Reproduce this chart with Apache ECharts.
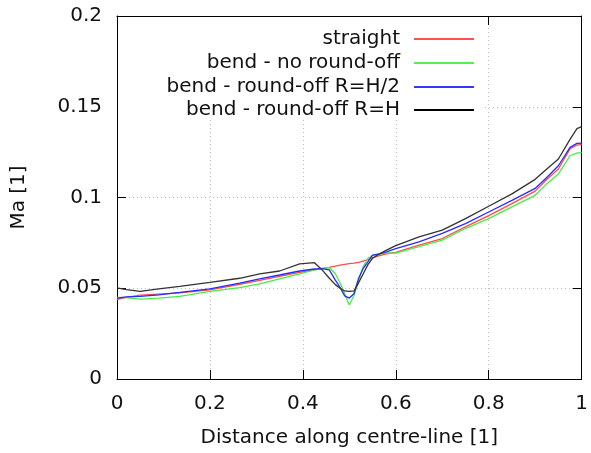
<!DOCTYPE html>
<html>
<head>
<meta charset="utf-8">
<script src="https://cdn.jsdelivr.net/npm/echarts@6/dist/echarts.min.js"></script>
<style>
html,body{margin:0;padding:0;background:#fff;}
#chart{width:591px;height:453px;}
</style>
</head>
<body>
<div id="chart"></div>
<script>
// Shared abscissa (distance along centre-line)
const xs = [0, 0.02, 0.05, 0.09, 0.135, 0.2, 0.264, 0.307, 0.35, 0.393, 0.425, 0.44, 0.457, 0.47, 0.48, 0.49, 0.50, 0.51, 0.52, 0.53, 0.54, 0.55, 0.565, 0.58, 0.6, 0.65, 0.7, 0.75, 0.8, 0.85, 0.9, 0.925, 0.95, 0.975, 0.99, 1.0];

const straight = [0.0438, 0.0450, 0.0462, 0.0468, 0.0474, 0.0491, 0.0522, 0.0543, 0.0565, 0.0587, 0.0601, 0.0608, 0.0615, 0.0622, 0.0628, 0.0632, 0.0636, 0.0638, 0.0642, 0.0650, 0.0658, 0.0668, 0.0680, 0.0690, 0.0698, 0.0738, 0.0774, 0.0838, 0.0900, 0.0966, 0.1035, 0.1099, 0.1157, 0.1267, 0.1289, 0.1293];

const noRound = [0.0450, 0.0448, 0.0440, 0.0446, 0.0455, 0.0483, 0.0504, 0.0524, 0.0552, 0.0579, 0.0601, 0.0610, 0.0614, 0.0580, 0.0530, 0.0470, 0.0408, 0.0460, 0.0540, 0.0620, 0.0665, 0.0680, 0.0688, 0.0695, 0.0694, 0.0729, 0.0765, 0.0829, 0.0884, 0.0948, 0.1012, 0.1075, 0.1130, 0.1230, 0.1245, 0.1249];

const roundHalf = [0.0446, 0.0452, 0.0455, 0.0464, 0.0477, 0.0497, 0.0528, 0.0552, 0.0573, 0.0595, 0.0606, 0.0608, 0.0601, 0.0545, 0.0505, 0.0458, 0.0446, 0.0470, 0.0555, 0.0610, 0.0645, 0.0683, 0.0690, 0.0700, 0.0718, 0.0756, 0.0802, 0.0856, 0.0920, 0.0984, 0.1050, 0.1110, 0.1175, 0.1276, 0.1298, 0.1300];

const roundFull = [0.0502, 0.0492, 0.0483, 0.0497, 0.0510, 0.0532, 0.0555, 0.0579, 0.0595, 0.0634, 0.0641, 0.0605, 0.0555, 0.0520, 0.0500, 0.0485, 0.0483, 0.0485, 0.0530, 0.0580, 0.0630, 0.0665, 0.0690, 0.0710, 0.0735, 0.0783, 0.0820, 0.0884, 0.0952, 0.1020, 0.1100, 0.1157, 0.1212, 0.1320, 0.1380, 0.1390];

const seriesNames = ['straight', 'bend - no round-off', 'bend - round-off R=H/2', 'bend - round-off R=H'];
const seriesValues = [straight, noRound, roundHalf, roundFull];
const seriesColors = ['#ff4a4a', '#44ee44', '#2a2aff', '#333333'];
const legendColors = ['#ff5050', '#55ee55', '#3535ff', '#000000'];

const xTicks = { min: 0, max: 1, interval: 0.2 };
const yTicks = { min: 0, max: 0.2, interval: 0.05 };

const FONT = 'DejaVu Sans';
const FS = 20;
const TXT = '#111';

const chart = echarts.init(document.getElementById('chart'), null, { renderer: 'canvas' });

const gridLine = { show: true, lineStyle: { color: '#bdbdbd', type: [1, 3], width: 1 } };
const axisLine = { show: true, onZero: false, lineStyle: { color: '#000', width: 1 } };
const tick = { show: true, inside: true, length: 9, lineStyle: { color: '#000', width: 1 } };

const legendTops = [29, 53, 77, 100];

const option = {
  animation: false,
  backgroundColor: '#fff',
  grid: { left: 117, right: 8, top: 16, bottom: 71, containLabel: false },
  xAxis: [
    {
      type: 'value', min: xTicks.min, max: xTicks.max, interval: xTicks.interval,
      position: 'bottom',
      name: 'Distance along centre-line [1]', nameLocation: 'middle', nameGap: 49,
      nameTextStyle: { fontFamily: FONT, fontSize: FS, color: TXT },
      axisLine: axisLine, axisTick: tick,
      axisLabel: { margin: 15, fontFamily: FONT, fontSize: FS, color: TXT },
      splitLine: gridLine
    },
    {
      type: 'value', min: xTicks.min, max: xTicks.max, interval: xTicks.interval,
      position: 'top',
      axisLine: axisLine, axisTick: tick,
      axisLabel: { show: false }, splitLine: { show: false }
    }
  ],
  yAxis: [
    {
      type: 'value', min: yTicks.min, max: yTicks.max, interval: yTicks.interval,
      position: 'left',
      name: 'Ma [1]', nameLocation: 'middle', nameGap: 88, nameRotate: 90,
      nameTextStyle: { fontFamily: FONT, fontSize: FS, color: TXT },
      axisLine: axisLine, axisTick: tick,
      axisLabel: { margin: 15, fontFamily: FONT, fontSize: FS, color: TXT },
      splitLine: gridLine
    },
    {
      type: 'value', min: yTicks.min, max: yTicks.max, interval: yTicks.interval,
      position: 'right',
      axisLine: axisLine, axisTick: tick,
      axisLabel: { show: false }, splitLine: { show: false }
    }
  ],
  graphic: [
    {
      type: 'rect', z: 5, silent: true,
      shape: { x: 118, y: 17, width: 367, height: 103 },
      style: { fill: '#fff' }
    }
  ],
  legend: seriesNames.map((n, i) => ({
    data: [{ name: n, icon: 'rect', itemStyle: { color: legendColors[i] } }],
    right: 117,
    top: legendTops[i],
    orient: 'vertical',
    align: 'right',
    padding: 0,
    itemWidth: 60,
    itemHeight: 2,
    z: 10,
    selectedMode: false,
    textStyle: { fontFamily: FONT, fontSize: FS, color: TXT, padding: [0, 9, 0, 0] }
  })),
  series: seriesNames.map((n, i) => ({
    name: n,
    type: 'line',
    xAxisIndex: 0,
    yAxisIndex: 0,
    symbol: 'none',
    showSymbol: false,
    smooth: false,
    z: 3 + i,
    lineStyle: { color: seriesColors[i], width: 1.3 },
    itemStyle: { color: seriesColors[i] },
    data: xs.map((x, k) => [x, seriesValues[i][k]])
  }))
};

chart.setOption(option);
</script>
</body>
</html>
